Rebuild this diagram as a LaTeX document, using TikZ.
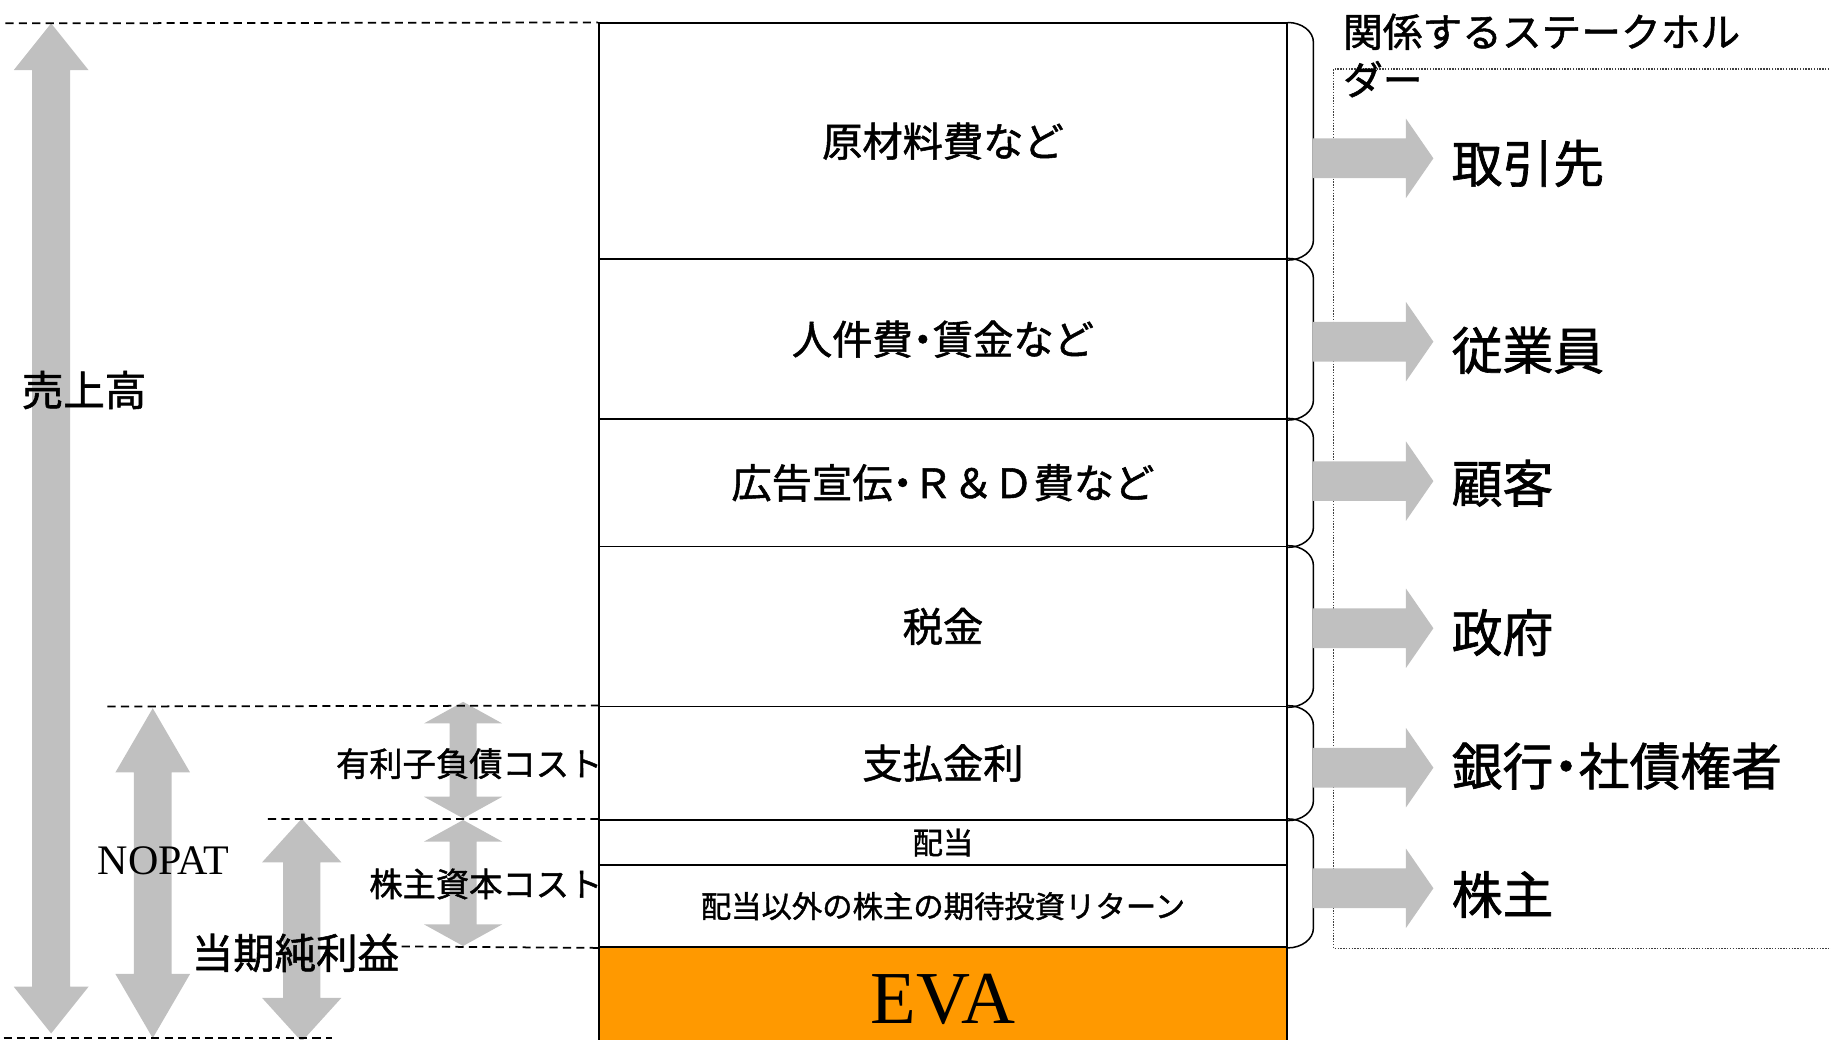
\documentclass[tikz,border=0pt]{standalone}
\usepackage{fontspec}
\setmainfont{Liberation Serif}
\newfontfamily\jp[FakeBold=1.3]{Noto Sans CJK JP}
\newcommand{\nkg}{{\addfontfeature{RawFeature=+palt}・}}
\usetikzlibrary{calc}
\definecolor{agray}{HTML}{C0C0C0}
\definecolor{evaorange}{HTML}{FF9900}
\newcommand{\VDArrow}[6]{% x, top, bottom, shaft half width, head half width, head length
  \fill[agray] (#1,#2) -- (#1+#5,#2+#6) -- (#1+#4,#2+#6) -- (#1+#4,#3-#6) -- (#1+#5,#3-#6) -- (#1,#3)
    -- (#1-#5,#3-#6) -- (#1-#4,#3-#6) -- (#1-#4,#2+#6) -- (#1-#5,#2+#6) -- cycle;}
\newcommand{\RArrow}[1]{% centre y
  \fill[agray] (1124,#1-17) -- (1204,#1-17) -- (1204,#1-34) -- (1227.5,#1) -- (1204,#1+34)
    -- (1204,#1+17) -- (1124,#1+17) -- cycle;}
\begin{document}
\begin{tikzpicture}[x=1pt,y=-1pt,
  rowbox/.style={draw=black, line width=1.5pt, minimum width=589pt, inner sep=0pt,
    font=\jp\fontsize{34.5}{40}\selectfont},
  smallrow/.style={rowbox, font=\jp\fontsize{26}{30}\selectfont},
  dashline/.style={line width=1.5pt, dash pattern=on 7pt off 4.5pt},
  dotline/.style={line width=1.2pt, dash pattern=on 1.2pt off 1.2pt, draw=black!75},
  bracket/.style={line width=1.3pt},
  rlabel/.style={anchor=west, inner sep=0pt, font=\jp\fontsize{43.5}{48}\selectfont},
  leftlabel/.style={inner sep=0pt, font=\jp\fontsize{35.5}{40}\selectfont},
  costlabel/.style={anchor=east, inner sep=0pt, font=\jp\fontsize{28.5}{32}\selectfont}]
\useasboundingbox (0,0) rectangle (1568,890.6);

% left double arrows
\VDArrow{43.8}{20}{885}{16.2}{32}{40}
\VDArrow{130.8}{606.5}{889}{16.2}{32}{55}
\VDArrow{258.4}{701}{892}{16}{34}{37.5}
\VDArrow{396.6}{601}{700.8}{11.5}{33.5}{18.5}
\VDArrow{396.6}{702.2}{810.1}{11.5}{33.5}{18.5}

% EVA and the cost column
\node[rowbox, fill=evaorange, minimum height=90pt, font=\fontsize{64}{70}\selectfont] (eva) at (807.5,856) {EVA};
\node[rowbox, minimum height=202pt] (r1) at (807.5,121) {原材料費など};
\node[rowbox, minimum height=137pt] (r2) at (807.5,290.5) {人件費\nkg 賃金など};
\node[rowbox, minimum height=109pt] (r3) at (807.5,413.5) {広告宣伝\nkg Ｒ＆Ｄ費など};
\node[rowbox, minimum height=137pt] (r4) at (807.5,536.5) {税金};
\node[rowbox, minimum height=97pt] (r5) at (807.5,653.5) {支払金利};
\node[smallrow, minimum height=39pt] (r6) at (807.5,721.5) {配当};
\node[smallrow, minimum height=70pt] (r7) at (807.5,776) {配当以外の株主の期待投資リターン};

% brackets on the right of the column
\foreach \a/\b in {r1/r1,r2/r2,r3/r3,r4/r4,r5/r5,r6/r7}{
  \draw[bracket] (\a.north east) .. controls ($(\a.north east)+(12,0)$) and ($(\a.north east)+(22,7.5)$)
    .. ($(\a.north east)+(22,17)$) -- ($(\b.south east)+(22,-17)$)
    .. controls ($(\b.south east)+(22,-7.5)$) and ($(\b.south east)+(12,0)$) .. (\b.south east);
}

% dotted stakeholder frame
\coordinate (fTR) at (1600,59);
\coordinate (fTL) at (1142,59);
\coordinate (fBL) at (1142,812);
\coordinate (fBR) at (1600,812);
\draw[dotline] (fTR) -- (fTL) -- (fBL) -- (fBR);

% right block arrows
\RArrow{135.6}
\RArrow{292.6}
\RArrow{412}
\RArrow{538}
\RArrow{657.4}
\RArrow{760.7}

% dashed guide lines
\coordinate (dTop) at (4.6,20);
\coordinate (dA) at (92,605);
\coordinate (dB) at (229.5,701.4);
\coordinate (dC) at (344,810.5);
\coordinate (dBotL) at (3,888.8);
\coordinate (dBotR) at (284,888.8);
\draw[dashline] (dTop) -- (r1.north west);
\draw[dashline] (dA) -- (r5.north west);
\draw[dashline] (dB) -- (r6.north west);
\draw[dashline] (dC) -- (r7.south west);
\draw[dashline] (dBotL) -- (dBotR);

% left labels
\node[leftlabel] (sales) at (72,334) {売上高};
\node[inner sep=0pt, font=\fontsize{36}{40}\selectfont] (nopat) at (140,737) {NOPAT};
\node[leftlabel] (netinc) at (253,816) {当期純利益};
\node[costlabel] (debt) at (516,654) {有利子負債コスト};
\node[costlabel] (equity) at (516,757) {株主資本コスト};

% stakeholders
\node[anchor=north west, align=left, inner sep=0pt, font=\jp\fontsize{34}{41}\selectfont] (title) at (1150,11.5) {関係するステークホル\\ダー};
\node[rlabel] (s1) at (1243,140) {取引先};
\node[rlabel] (s2) at (1243,300) {従業員};
\node[rlabel] (s3) at (1243,413.8) {顧客};
\node[rlabel] (s4) at (1243,541.7) {政府};
\node[rlabel] (s5) at (1243,656) {銀行\nkg 社債権者};
\node[rlabel] (s6) at (1243,766) {株主};
\end{tikzpicture}
\end{document}
